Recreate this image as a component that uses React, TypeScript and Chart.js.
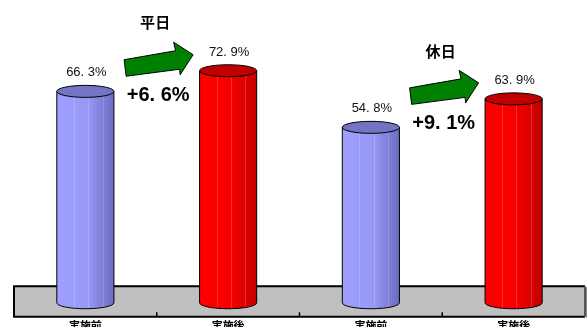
import React, { useEffect, useRef } from 'react';
import { Chart, registerables } from 'chart.js';

Chart.register(...registerables);

// ---- data ----
const categories = ['実施前', '実施後', '実施前', '実施後'];
const values = [66.3, 72.9, 54.8, 63.9];
const groupTitles = ['平日', '休日'];

// ---- styles ----
const bodyStops = [
  ['#a0a0ff', '#9797f6', '#6c6cc0'],
  ['#ff0000', '#f60000', '#c40000'],
];
const topColors = ['#7474c4', '#c00000'];

const fmt = (v: number, sign = false) => {
  const [i, d] = v.toFixed(1).split('.');
  return `${sign && v >= 0 ? '+' : ''}${i}. ${d}%`;
};

const cylinderPlugin = {
  id: 'cylinders',
  beforeDatasetsDraw(chart: any) {
    const { ctx, chartArea } = chart;
    const { left, right, bottom } = chartArea;
    const xs = chart.scales.x;
    const floorTop = bottom - 30.5;
    ctx.save();
    ctx.fillStyle = '#c0c0c0';
    ctx.fillRect(left, floorTop, right - left, bottom - floorTop);
    ctx.strokeStyle = '#000';
    ctx.lineWidth = 2;
    ctx.beginPath();
    ctx.moveTo(right, floorTop);
    ctx.lineTo(left, floorTop);
    ctx.lineTo(left, bottom);
    ctx.lineTo(right, bottom);
    ctx.stroke();
    ctx.strokeStyle = '#555';
    ctx.beginPath();
    ctx.moveTo(right, floorTop);
    ctx.lineTo(right, bottom);
    ctx.stroke();
    ctx.fillStyle = '#8a8a8a';
    ctx.fillRect(right + 1, floorTop + 1, 2, bottom - floorTop);
    // tick marks between categories
    ctx.strokeStyle = '#000';
    ctx.lineWidth = 1.5;
    for (let i = 0; i < categories.length - 1; i++) {
      const bx = (xs.getPixelForValue(i) + xs.getPixelForValue(i + 1)) / 2;
      ctx.beginPath();
      ctx.moveTo(bx, bottom - 4.5);
      ctx.lineTo(bx, bottom);
      ctx.stroke();
    }
    ctx.restore();
  },
  afterDatasetsDraw(chart: any) {
    const { ctx } = chart;
    const meta = chart.getDatasetMeta(0);
    const bars = meta.data.map((b: any) => b.getProps(['x', 'y', 'base', 'width'], true));
    ctx.save();
    bars.forEach((b: any, i: number) => {
      const c = i % 2;
      const rx = b.width / 2;
      const ry = 6;
      const by = b.base + 4;
      const ty = b.y;
      const g = ctx.createLinearGradient(b.x - rx, 0, b.x + rx, 0);
      g.addColorStop(0, bodyStops[c][0]);
      g.addColorStop(0.55, bodyStops[c][1]);
      g.addColorStop(1, bodyStops[c][2]);
      ctx.beginPath();
      ctx.moveTo(b.x - rx, ty);
      ctx.lineTo(b.x - rx, by);
      ctx.ellipse(b.x, by, rx, ry, 0, Math.PI, 0, true);
      ctx.lineTo(b.x + rx, ty);
      ctx.closePath();
      ctx.fillStyle = g;
      ctx.fill();
      // faint banding lines
      ctx.strokeStyle = 'rgba(255,255,255,0.18)';
      ctx.lineWidth = 1;
      [0.3, 0.55, 0.8].forEach((f) => {
        const lx = Math.round(b.x - rx + f * b.width) + 0.5;
        ctx.beginPath();
        ctx.moveTo(lx, ty);
        ctx.lineTo(lx, by + ry * 0.8);
        ctx.stroke();
      });
      ctx.strokeStyle = '#000';
      ctx.lineWidth = 1;
      ctx.beginPath();
      ctx.moveTo(b.x - rx, ty);
      ctx.lineTo(b.x - rx, by);
      ctx.ellipse(b.x, by, rx, ry, 0, Math.PI, 0, true);
      ctx.lineTo(b.x + rx, ty);
      ctx.stroke();
      ctx.beginPath();
      ctx.ellipse(b.x, ty, rx, ry, 0, 0, Math.PI * 2);
      ctx.fillStyle = topColors[c];
      ctx.fill();
      ctx.stroke();
      // value label
      ctx.fillStyle = '#111';
      ctx.font = '13px "Liberation Sans", Arial, sans-serif';
      ctx.textAlign = 'center';
      ctx.textBaseline = 'middle';
      ctx.fillText(fmt(values[i]), b.x + 1, ty - 18.5);
    });
    // arrows and group annotations
    groupTitles.forEach((title, k) => {
      const prev = bars[2 * k];
      const next = bars[2 * k + 1];
      if (!prev || !next) return;
      const tx = next.x - 35;
      const tyy = next.y - 16;
      const pts = [
        [-69, 5], [-17.5, -4], [-19.5, -12.5], [0, 0], [-13, 20], [-13.5, 14.5], [-67, 21.5],
      ];
      ctx.beginPath();
      pts.forEach(([px, py], j) => {
        if (j === 0) ctx.moveTo(tx + px, tyy + py);
        else ctx.lineTo(tx + px, tyy + py);
      });
      ctx.closePath();
      ctx.fillStyle = '#008000';
      ctx.fill();
      ctx.strokeStyle = '#000';
      ctx.lineWidth = 1;
      ctx.stroke();
      const diff = values[2 * k + 1] - values[2 * k];
      ctx.fillStyle = '#000';
      ctx.textAlign = 'center';
      ctx.textBaseline = 'middle';
      ctx.font = 'bold 20px "Liberation Sans", Arial, sans-serif';
      ctx.fillText(fmt(diff, true), tx - 35, tyy + 41);
      ctx.font = 'bold 15px "Noto Sans CJK JP", sans-serif';
      ctx.fillText(title, tx - 38, tyy - 32);
    });
    ctx.restore();
  },
};

export default function App() {
  const ref = useRef<HTMLCanvasElement | null>(null);
  useEffect(() => {
    document.body.style.margin = '0';
    if (!ref.current) return;
    const chart = new Chart(ref.current, {
      type: 'bar',
      data: {
        labels: categories,
        datasets: [
          {
            data: values,
            backgroundColor: 'rgba(0,0,0,0)',
            borderWidth: 0,
            barPercentage: 0.4,
            categoryPercentage: 1,
          },
        ],
      },
      options: {
        animation: false,
        responsive: false,
        devicePixelRatio: 1,
        layout: { padding: { left: 14, right: 2, top: 0, bottom: 0 } },
        plugins: { legend: { display: false }, tooltip: { enabled: false } },
        scales: {
          x: {
            grid: { display: false, drawTicks: false },
            border: { display: false },
            ticks: {
              color: '#000',
              padding: 2,
              maxRotation: 0,
              font: { family: '"Noto Sans CJK JP", sans-serif', size: 11, weight: 'bold' },
            },
          },
          y: { display: false, min: -5.77, max: 95.51 },
        },
      },
      plugins: [cylinderPlugin],
    });
    return () => chart.destroy();
  }, []);
  return (
    <div style={{ width: 587, height: 327, overflow: 'hidden', position: 'relative', background: '#fff' }}>
      <canvas ref={ref} width={587} height={334} style={{ width: 587, height: 334, display: 'block' }} />
    </div>
  );
}
